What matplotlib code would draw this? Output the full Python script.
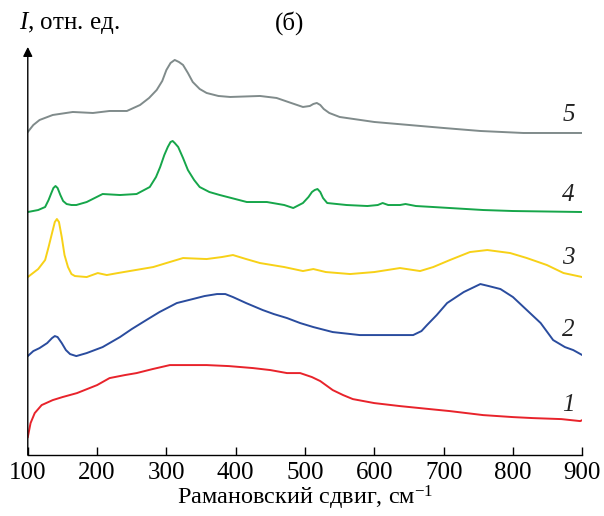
import matplotlib.pyplot as plt

plt.rcParams["font.family"] = ["Liberation Serif", "DejaVu Serif"]
plt.rcParams["mathtext.fontset"] = "custom"
plt.rcParams["mathtext.rm"] = "Liberation Serif"
plt.rcParams["mathtext.it"] = "Liberation Serif:italic"

# curve 1 (red)
x1 = [100, 104, 110, 120, 136, 150, 171, 200, 218, 240, 257, 280, 305, 330, 358, 390,
      425, 450, 474, 493, 510, 522, 540, 555, 569, 600, 637, 680, 709, 757, 800, 829,
      870, 897, 900]
y1 = [18, 32, 42, 50, 55, 58, 62, 70, 77, 80, 82, 86, 90, 90, 90, 89,
      87, 85, 82, 82, 78, 74, 65, 60, 56, 52, 49, 46, 44, 40, 38, 37,
      36, 34, 35]

# curve 2 (blue)
x2 = [100, 108, 117, 128, 135, 139, 143, 149, 155, 161, 170, 185, 208, 233, 250, 271,
      290, 315, 338, 355, 373, 385, 396, 415, 439, 455, 474, 493, 512, 540, 579, 613,
      656, 668, 676, 690, 705, 729, 753, 765, 782, 800, 820, 840, 858, 875, 887, 900]
y2 = [99, 104, 107, 112, 117, 119, 118, 112, 105, 101, 99, 102, 108, 118, 126, 135,
      143, 152, 156, 159, 161, 161, 158, 152, 145, 141, 137, 132, 128, 123, 120, 120,
      120, 124, 130, 140, 152, 163, 171, 169, 166, 158, 145, 132, 115, 108, 105, 100]

# curve 3 (yellow)
x3 = [100, 115, 125, 130, 135, 139, 142, 145, 149, 153, 158, 163, 168, 185, 201, 214,
      230, 247, 281, 300, 324, 358, 380, 396, 415, 435, 470, 497, 512, 530, 565, 600,
      637, 666, 685, 709, 738, 763, 796, 820, 849, 873, 900]
y3 = [178, 186, 195, 208, 222, 233, 236, 233, 218, 200, 188, 181, 179, 178, 182, 180,
      182, 184, 188, 192, 197, 196, 198, 200, 196, 192, 188, 184, 186, 183, 181, 183,
      187, 184, 188, 195, 203, 205, 202, 197, 190, 182, 178]

# curve 4 (green)
x4 = [100, 115, 125, 130, 134, 137, 140, 143, 147, 151, 156, 163, 170, 185, 208, 233,
      257, 276, 285, 291, 297, 302, 306, 309, 312, 317, 324, 331, 340, 348, 362, 377,
      416, 445, 470, 483, 497, 505, 510, 514, 518, 522, 526, 532, 560, 590, 605, 612,
      620, 637, 645, 660, 685, 757, 800, 900]
y4 = [243, 245, 248, 255, 262, 267, 269, 267, 260, 254, 251, 250, 250, 253, 261, 260,
      261, 268, 278, 288, 300, 308, 313, 314, 312, 308, 297, 285, 275, 268, 263, 260,
      253, 253, 250, 247, 252, 258, 263, 265, 266, 263, 257, 252, 250, 249, 250, 252,
      250, 250, 251, 249, 248, 245, 244, 243]

# curve 5 (gray)
x5 = [100, 108, 117, 136, 165, 194, 218, 243, 262, 275, 286, 294, 300, 306, 312, 318,
      324, 331, 338, 348, 358, 375, 392, 435, 459, 480, 497, 507, 512, 517, 522, 527,
      535, 550, 600, 650, 700, 753, 815, 900]
y5 = [323, 330, 335, 340, 343, 342, 344, 344, 350, 357, 365, 374, 385, 392, 395, 393,
      390, 382, 373, 366, 362, 359, 358, 359, 357, 352, 348, 349, 351, 352, 350, 346,
      342, 338, 333, 330, 327, 324, 322, 322]

curves = [(x1, y1, "#e8232b", "1", 50),
          (x2, y2, "#2a4c9e", "2", 125),
          (x3, y3, "#f7d117", "3", 197),
          (x4, y4, "#16a64a", "4", 260),
          (x5, y5, "#808b8b", "5", 340)]

fig = plt.figure(figsize=(6.04, 5.16), dpi=100)
ax = fig.add_axes([0.046, 0.118, 0.918, 0.791])

for xs, ys, color, label, label_y in curves:
    ax.plot(xs, ys, color=color, lw=1.4)
    ax.text(880, label_y, label, fontsize=18, style="italic",
            ha="center", va="center", color="#222222")

ax.set_xlim(100, 900)
ax.set_ylim(0, 408)
ax.set_xticks(range(100, 901, 100))
ax.set_yticks([])
ax.tick_params(axis="x", direction="in", length=6, width=1, labelsize=18, pad=5)
for side in ["top", "right", "left"]:
    ax.spines[side].set_visible(False)
ax.spines["bottom"].set_linewidth(1)

ax.annotate("", xy=(100, 408), xytext=(100, 0),
            arrowprops=dict(arrowstyle="-|>", color="black", lw=1,
                            mutation_scale=14, shrinkA=0, shrinkB=0),
            annotation_clip=False)

ax.set_xlabel("Рамановский сдвиг, см$^{-1}$", fontsize=17.5, labelpad=0)
fig.text(0.031, 0.955, "$\\mathit{I}$, отн. ед.", fontsize=18, ha="left", va="center")
fig.text(0.48, 0.955, "(б)", fontsize=18, ha="center", va="center")

fig.savefig("out.png", dpi=100)
